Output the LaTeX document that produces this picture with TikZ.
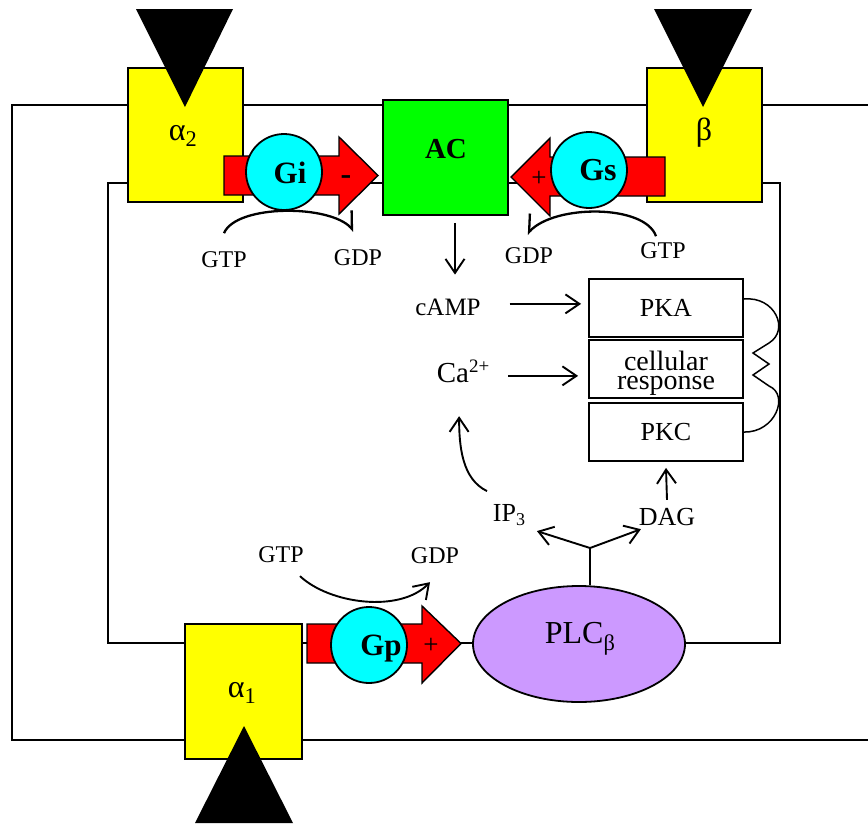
\documentclass[tikz,border=0pt]{standalone}
\usepackage{fontspec}
\setmainfont{Liberation Serif}
\usepackage{xcolor}
\usepackage{tikz}
\usetikzlibrary{arrows.meta,positioning,shapes.geometric}

\definecolor{recyellow}{RGB}{255,255,0}
\definecolor{acgreen}{RGB}{0,255,0}
\definecolor{gcyan}{RGB}{0,255,255}
\definecolor{plcviolet}{RGB}{204,153,255}
\newcommand{\fsz}[1]{\fontsize{#1}{#1}\selectfont}

\begin{document}
\begin{tikzpicture}[
        x=1pt, y=-1pt, line width=1.8pt,
        recep/.style={draw, fill=recyellow, minimum width=115pt, minimum height=134pt, inner sep=0pt},
        gprot/.style={circle, draw, fill=gcyan, minimum size=76pt, inner sep=0pt},
        blockarr/.style={draw, fill=red, line width=1.4pt},
        ligand/.style={fill=black},
        kinase/.style={draw, minimum width=154pt, minimum height=58pt, inner sep=0pt, font=\fsz{26}},
        lab/.style={inner sep=0pt, anchor=base, font=\fsz{24}},
        arr/.style={-{Straight Barb[length=14pt,width=19pt]}, line width=1.9pt},
        gcycle/.style={line width=2.3pt}
    ]
        \useasboundingbox (0,0) rectangle (868,823);

        \draw (868,105) -- (12,105) -- (12,740) -- (868,740);
        \draw (108,183) rectangle (780,643);

        \node[recep] (a2) at (185.5,135) {};
        \node[recep] (beta) at (704.5,135) {};
        \node[recep, minimum width=117pt, minimum height=135pt] (a1) at (243.5,691.5) {};
        \node[lab, anchor=base west, font=\fsz{32}] (a2L) at (168,140) {α\textsubscript{2}};
        \node[lab, font=\fsz{32}] (betaL) at (704,140) {β};
        \node[lab, anchor=base west, font=\fsz{32}] (a1L) at (227,697) {α\textsubscript{1}};

        \fill[ligand] (136,9) -- (233,9) -- (185,107) -- cycle;
        \fill[ligand] (654,9) -- (752,9) -- (703,107) -- cycle;
        \fill[ligand] (195,823) -- (293,823) -- (244,726) -- cycle;

        \node[draw, fill=acgreen, minimum width=125pt, minimum height=115pt, inner sep=0pt] (AC) at (445.5,157.5) {};
        \node[lab, font=\fsz{29}\bfseries] (acL) at (446,158) {AC};

        \draw[blockarr] (224,156) -- (339,156) -- (339,137) -- (378,175.5) -- (339,214) -- (339,195) -- (224,195) -- cycle;
        \node[gprot] (gi) at (284,172) {};
        \node[lab, font=\fsz{31}\bfseries] (giL) at (290,183) {Gi};
        \node[lab, font=\fsz{32}\bfseries] (giSign) at (346,184) {-};

        \draw[blockarr] (665,157) -- (550,157) -- (550,138) -- (511,177) -- (550,216) -- (550,196) -- (665,196) -- cycle;
        \node[gprot] (gs) at (589,170) {};
        \node[lab, font=\fsz{32}\bfseries] (gsL) at (598,180) {Gs};
        \node[lab, font=\fsz{27}] (gsSign) at (539,186) {+};

        \draw[blockarr] (307,624) -- (422,624) -- (422,606) -- (461,643.5) -- (422,683) -- (422,663) -- (307,663) -- cycle;
        \node[gprot] (gp) at (369,645) {};
        \node[lab, font=\fsz{31}\bfseries] (gpL) at (381,655) {Gp};
        \node[lab, font=\fsz{27}] (gpSign) at (431,653) {+};

        \node[ellipse, draw, fill=plcviolet, minimum width=212pt, minimum height=116pt, inner sep=0pt] (PLC) at (579,644) {};
        \node[lab, anchor=base west, font=\fsz{32}] (plcL) at (544,643) {PLC\textsubscript{β}};

        \node[kinase] (PKA) at (666,308) {PKA};
        \node[kinase] (resp) at (666,369) {};
        \node[inner sep=0pt, anchor=north, align=center, font={\fontsize{28}{19}\selectfont}] (respL) at (666,350) {cellular\\response};
        \node[kinase] (PKC) at (666,432) {PKC};

        \node[lab] (gtpI) at (224,267) {GTP};
        \node[lab] (gdpI) at (358,265) {GDP};
        \node[lab] (gdpS) at (529,263) {GDP};
        \node[lab] (gtpS) at (663,258) {GTP};
        \node[lab] (gtpP) at (281,562) {GTP};
        \node[lab] (gdpP) at (435,563) {GDP};
        \node[lab, font=\fsz{25}] (camp) at (448,315) {cAMP};
        \node[lab, anchor=base west, font=\fsz{29}] (ca) at (436,382) {Ca\raisebox{10pt}{\fsz{19}2+}};
        \node[lab, anchor=base west, font=\fsz{26}] (ip3) at (492,521) {IP\raisebox{-4pt}{\fsz{18}3}};
        \node[lab, font=\fsz{26}] (dag) at (667,525) {DAG};

        \draw[gcycle, -{Straight Barb[left,length=14pt,width=24pt]}] ([yshift=17pt]gtpI.north) .. controls +(12,-29) and +(-24,-27) .. ([xshift=-4pt,yshift=17pt]gdpI.north);
        \draw[gcycle, -{Straight Barb[right,length=14pt,width=24pt]}] ([xshift=-7pt,yshift=5pt]gtpS.north) .. controls +(-11,-32) and +(28,-30) .. ([xshift=-2pt,yshift=12pt]gdpS.north);
        \draw[arr] ([xshift=19pt,yshift=-13pt]gtpP.south) .. controls +(30,28) and +(-30,31) .. ([xshift=-5pt,yshift=-18pt]gdpP.south);

        \draw[arr] ([xshift=9.5pt,yshift=-7pt]AC.south) -- ([xshift=7pt,yshift=23pt]camp.north);
        \draw[arr] ([xshift=28pt,yshift=3pt]camp.east) -- ([xshift=-7pt,yshift=3pt]camp.east -| PKA.west);
        \draw[arr] ([xshift=18pt,yshift=-5pt]ca.east) -- ([xshift=-10pt,yshift=-5pt]ca.east -| resp.west);
        \draw[arr] ([xshift=-5pt,yshift=12pt]ip3.north west) .. controls +(-25,-12) and +(0,30) .. ([xshift=-4pt,yshift=-33pt]ca.south);
        \draw[arr] ([yshift=7pt]dag.north) -- ([yshift=-6pt]PKC.south);

        \coordinate (fork) at (590,548);
        \draw[line width=1.9pt] (fork |- PLC.north) -- (fork);
        \draw[arr] (fork) -- ([xshift=11pt,yshift=-5pt]ip3.south east);
        \draw[arr] (fork) -- ([xshift=3pt,yshift=-3pt]dag.south west);

        \draw[line width=1.5pt] ([yshift=9pt]PKA.east) .. controls (775,296) and (790,330) .. (769,343) -- (753,353) -- (769,364) -- (753,375) -- (769,386) .. controls (790,395) and (775,433) .. (PKC.east);
    \end{tikzpicture}
\end{document}
